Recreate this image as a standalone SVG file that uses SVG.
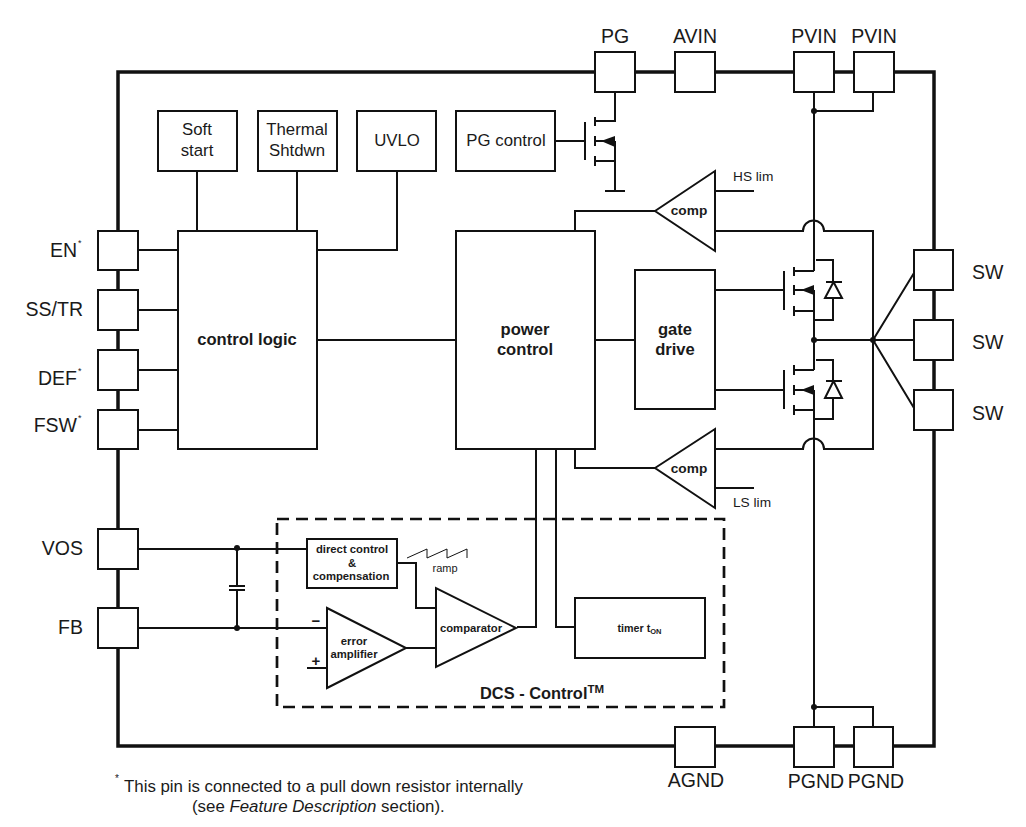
<svg xmlns="http://www.w3.org/2000/svg" width="1026" height="827" viewBox="0 0 1026 827">
<style>
text{font-family:"Liberation Sans",Arial,sans-serif;fill:#1a1a1a}
.m{text-anchor:middle}
.e{text-anchor:end}
.pin{font-size:19.5px}
.lbl{font-size:16.8px}
.b{font-weight:bold}
.pc{font-size:16.6px;font-weight:bold}
.s{font-size:13.7px}
.t{font-size:11.3px;font-weight:bold}
.box{fill:#fff;stroke:#111;stroke-width:2}
.w{fill:none;stroke:#111;stroke-width:2}
.f{fill:#111;stroke:none}
</style>
<rect x="118" y="72" width="816" height="674" fill="#fff" stroke="#111" stroke-width="3.5"/>
<g id="connectors" class="w">
<path d="M138 250H178M138 310H178M138 370H178M138 430H178"/>
<path d="M197 171V231M297 171V231M397 171V250H317"/>
<path d="M317 340H456M595 340H635"/>
<path d="M655 211H575V231M715 231H803A10.5 10.5 0 0 1 824 231H873V449H824A10.5 10.5 0 0 0 803 449H715M655 468H575V449"/>
<path d="M715 191H754M715 488H754"/>
<path d="M536 449V627H517M556 449V627H575"/>
<path d="M138 549H307M138 628H327M237 549V586M237 590V628"/>
<path d="M229 586H245M229 590H245"/>
<path d="M397 563H416V608H436M406 648H436M307 668H327"/>
<path d="M407 558L427 549V558L447 549V558L467 549V558" stroke-width="1"/>
<path d="M814 92V271M814 290V340M814 340V370M814 390V727"/>
<path d="M814 111H873V92M814 707H873V727"/>
<path d="M814 340H914M873 340L914 273M873 340L914 408"/>
<path d="M615 92V121H595M615 141V191M605 191H625M556 141H585"/>
<path d="M715 290H784M715 390H784"/>
<circle class="f" cx="814" cy="111" r="3"/>
<circle class="f" cx="814" cy="707" r="3"/>
<circle class="f" cx="814" cy="340" r="3"/>
<circle class="f" cx="873" cy="340" r="3"/>
<circle class="f" cx="237" cy="548" r="3"/>
<circle class="f" cx="237" cy="628" r="3"/>
</g>
<g id="dcs-frame">
<rect x="277" y="519" width="447" height="188" fill="none" stroke="#111" stroke-width="2.7" stroke-dasharray="12 7"/>
<text x="480" y="699" class="b" font-size="16.4">DCS - Control<tspan dy="-6" font-size="11.5">TM</tspan></text>
</g>
<g id="pin-pg"><rect class="box" x="595" y="52" width="40" height="40"/><text class="pin m" x="615" y="43">PG</text></g>
<g id="pin-avin"><rect class="box" x="675" y="52" width="40" height="40"/><text class="pin m" x="695" y="43">AVIN</text></g>
<g id="pin-pvin1"><rect class="box" x="794" y="52" width="40" height="40"/><text class="pin m" x="814" y="43">PVIN</text></g>
<g id="pin-pvin2"><rect class="box" x="854" y="52" width="40" height="40"/><text class="pin m" x="874" y="43">PVIN</text></g>
<g id="pin-en"><rect class="box" x="98" y="231" width="40" height="39"/><text class="pin e" x="77" y="257">EN</text><text x="78" y="246" font-size="9">*</text></g>
<g id="pin-sstr"><rect class="box" x="98" y="290" width="40" height="40"/><text class="pin e" x="83" y="316">SS/TR</text></g>
<g id="pin-def"><rect class="box" x="98" y="350" width="40" height="40"/><text class="pin e" x="77" y="385">DEF</text><text x="78" y="374" font-size="9">*</text></g>
<g id="pin-fsw"><rect class="box" x="98" y="410" width="40" height="39"/><text class="pin e" x="77" y="432">FSW</text><text x="78" y="421" font-size="9">*</text></g>
<g id="pin-vos"><rect class="box" x="98" y="529" width="40" height="40"/><text class="pin e" x="83" y="555">VOS</text></g>
<g id="pin-fb"><rect class="box" x="98" y="608" width="40" height="40"/><text class="pin e" x="83" y="634">FB</text></g>
<g id="pin-sw1"><rect class="box" x="914" y="250" width="39" height="40"/><text class="pin" x="972" y="279">SW</text></g>
<g id="pin-sw2"><rect class="box" x="914" y="320" width="39" height="40"/><text class="pin" x="972" y="349">SW</text></g>
<g id="pin-sw3"><rect class="box" x="914" y="390" width="39" height="40"/><text class="pin" x="972" y="420">SW</text></g>
<g id="pin-agnd"><rect class="box" x="675" y="727" width="40" height="40"/><text class="pin m" x="696" y="787">AGND</text></g>
<g id="pin-pgnd1"><rect class="box" x="794" y="727" width="40" height="40"/><text class="pin m" x="816" y="788">PGND</text></g>
<g id="pin-pgnd2"><rect class="box" x="854" y="727" width="39" height="40"/><text class="pin m" x="876" y="788">PGND</text></g>
<g id="soft-start"><rect class="box" x="158" y="111" width="79" height="60"/><text class="lbl m" x="197" y="135">Soft</text><text class="lbl m" x="197" y="156">start</text></g>
<g id="thermal"><rect class="box" x="258" y="111" width="79" height="60"/><text class="lbl m" x="297" y="135">Thermal</text><text class="lbl m" x="297" y="156">Shtdwn</text></g>
<g id="uvlo"><rect class="box" x="357" y="111" width="79" height="60"/><text class="lbl m" x="397" y="146">UVLO</text></g>
<g id="pg-control"><rect class="box" x="456" y="111" width="99" height="60"/><text class="lbl m" x="506" y="146">PG control</text></g>
<g id="control-logic"><rect class="box" x="178" y="231" width="139" height="218"/><text class="pc m" x="247" y="345">control logic</text></g>
<g id="power-control"><rect class="box" x="456" y="231" width="139" height="218"/><text class="pc m" x="525" y="335">power</text><text class="pc m" x="525" y="355">control</text></g>
<g id="gate-drive"><rect class="box" x="635" y="270" width="80" height="139"/><text class="pc m" x="675" y="335">gate</text><text class="pc m" x="675" y="355">drive</text></g>
<g id="comp-hs"><polygon class="box" points="655,211 715,171 715,251"/><text class="s m b" x="689" y="215">comp</text><text class="s" x="733" y="181">HS lim</text></g>
<g id="comp-ls"><polygon class="box" points="655,468 715,429 715,508"/><text class="s m b" x="689" y="473">comp</text><text class="s" x="733" y="507">LS lim</text></g>
<g id="direct-control"><rect class="box" x="307" y="539" width="90" height="49"/><text class="t m" x="352" y="553">direct control</text><text class="t m" x="352" y="567">&amp;</text><text class="t m" x="351" y="580">compensation</text></g>
<g id="ramp"><text class="m" font-size="11" x="445" y="572">ramp</text></g>
<g id="error-amp"><polygon class="box" points="327,608 327,688 406,648"/><text class="t m" x="354" y="645">error</text><text class="t m" x="354" y="658">amplifier</text><text class="b m" font-size="15" x="316" y="626">−</text><text class="b m" font-size="15" x="316" y="666">+</text></g>
<g id="comparator"><polygon class="box" points="436,588 436,667 516,628"/><text class="t m" x="471" y="632">comparator</text></g>
<g id="timer"><rect class="box" x="575" y="598" width="130" height="60"/><text class="m b" font-size="10.7" x="639.5" y="632">timer t<tspan font-size="7.5" dy="2">ON</tspan></text></g>
<g id="mosfet-pg" class="w">
<path d="M585 122V160M595 117V126M595 136V146M595 156V166M595 141H604M595 161H615"/>
<polygon class="f" points="601,141 615,136 615,147"/>
</g>
<g id="mosfet-hs" class="w">
<path d="M784 271V310M794 267V276M794 285V295M794 306V316M794 271H814M794 290H804M794 311H814"/>
<polygon class="f" points="801,290 814,285 814,295"/>
<path d="M816 260H833V282M833 298V320H814M826 282H842"/>
<polygon points="833.5,282 825,298 842,298" fill="#fff"/>
</g>
<g id="mosfet-ls" class="w">
<path d="M784 370V409M794 365V375M794 385V395M794 405V415M794 370H814M794 390H804M794 410H814"/>
<polygon class="f" points="801,390 814,385 814,395"/>
<path d="M816 360H833V381M833 398V419H814M826 381H842"/>
<polygon points="833.5,381 825,398 842,398" fill="#fff"/>
</g>
<g id="footnote"><text x="115" y="782" font-size="10">*</text><text x="124" y="792" font-size="16.85">This pin is connected to a pull down resistor internally</text><text x="192" y="812" font-size="16.85">(see <tspan font-style="italic">Feature Description</tspan> section).</text></g>
</svg>
